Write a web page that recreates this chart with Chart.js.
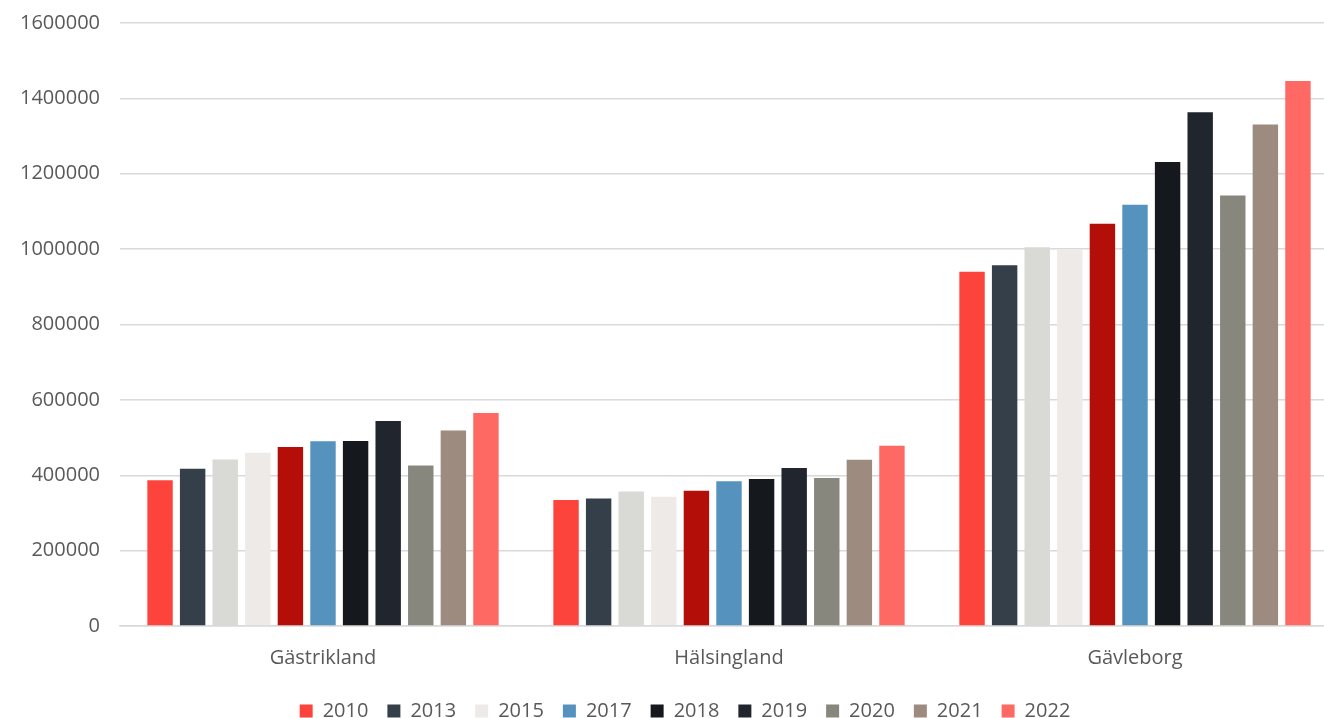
<!DOCTYPE html>
<html>
<head>
<meta charset="utf-8">
<script src="https://cdn.jsdelivr.net/npm/chart.js@4"></script>
<style>
  html, body { margin: 0; padding: 0; background: #fff; overflow: hidden; }
  #wrap { width: 1340px; height: 731px; }
</style>
</head>
<body>
<div id="wrap"><canvas id="chart"></canvas></div>
<script>
const regions = ["Gästrikland", "Hälsingland", "Gävleborg"];
const years = ["2010", "2013", "2014", "2015", "2016", "2017", "2018", "2019", "2020", "2021", "2022"];
const hiddenInLegend = ["2014", "2016"];

const v2010 = [387000, 334000, 940000];
const v2013 = [417000, 338000, 957000];
const v2014 = [442000, 357000, 1005000];
const v2015 = [460000, 343000, 998000];
const v2016 = [475000, 359000, 1067000];
const v2017 = [490000, 384000, 1118000];
const v2018 = [491000, 390000, 1231000];
const v2019 = [544000, 419000, 1363000];
const v2020 = [426000, 393000, 1142000];
const v2021 = [519000, 441000, 1331000];
const v2022 = [565000, 478000, 1446000];

const yTicks = [0, 200000, 400000, 600000, 800000, 1000000, 1200000, 1400000, 1600000];

const seriesValues = [v2010, v2013, v2014, v2015, v2016, v2017, v2018, v2019, v2020, v2021, v2022];
const colors = ["#FD443C", "#343F4A", "#D9D9D5", "#EEEAE7", "#B30F08", "#5592BE",
                "#15181C", "#21262E", "#87877D", "#9E8B7F", "#FE6A63"];

const datasets = years.map((y, i) => ({
  label: y,
  data: seriesValues[i],
  backgroundColor: colors[i],
  borderWidth: 0,
  categoryPercentage: 0.883,
  barPercentage: 0.78
}));

const font = { family: "'Open Sans', sans-serif", size: 20 };

// nudge the legend a bit to the right, like the original
const legendShift = {
  id: "legendShift",
  afterLayout(chart) {
    chart.legend.left += 16;
    chart.legend.right += 16;
  }
};

new Chart(document.getElementById("chart"), {
  type: "bar",
  data: { labels: regions, datasets: datasets },
  plugins: [legendShift],
  options: {
    responsive: true,
    maintainAspectRatio: false,
    animation: false,
    layout: { padding: { top: 23, right: 2, left: 0, bottom: 0 } },
    plugins: {
      tooltip: { enabled: false },
      legend: {
        position: "bottom",
        labels: {
          font: font,
          color: "#595959",
          boxWidth: 13,
          boxHeight: 13,
          padding: 19,
          filter: item => !hiddenInLegend.includes(item.text)
        }
      }
    },
    scales: {
      x: {
        afterFit: s => { s.height -= 8; },
        grid: { display: false, drawTicks: false },
        border: { display: true, color: "#D9D9D9", width: 1.5 },
        ticks: { font: font, color: "#595959", padding: 20 }
      },
      y: {
        min: 0,
        max: 1600000,
        afterFit: s => { s.width = 120; s.paddingTop = 0; s.paddingBottom = 0; },
        afterBuildTicks: s => { s.ticks = yTicks.map(v => ({ value: v })); },
        grid: { color: "#D9D9D9", lineWidth: 1.5, drawTicks: false },
        border: { display: false },
        ticks: { font: font, color: "#595959", padding: 20, callback: v => String(v) }
      }
    }
  }
});
</script>
</body>
</html>
